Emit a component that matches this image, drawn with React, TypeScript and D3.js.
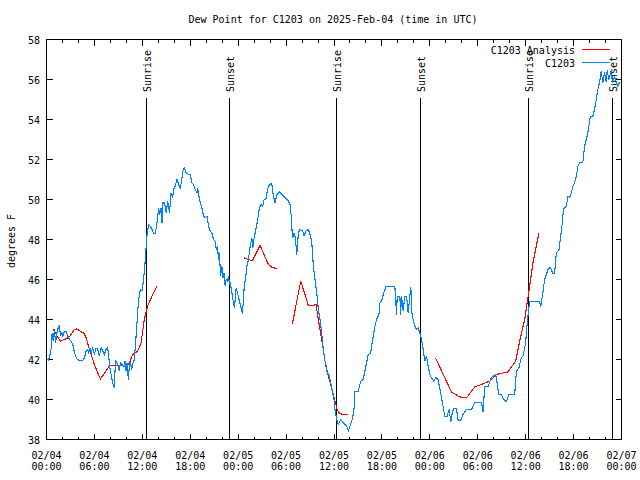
import React from "react";
import * as d3 from "d3";

const titleText = "Dew Point for C1203 on 2025-Feb-04 (time in UTC)";
const yLabel = "degrees F";
const yTicks = [38, 40, 42, 44, 46, 48, 50, 52, 54, 56, 58];
const xTickDates = ["02/04", "02/04", "02/04", "02/04", "02/05", "02/05", "02/05", "02/05", "02/06", "02/06", "02/06", "02/06", "02/07"];
const xTickTimes = ["00:00", "06:00", "12:00", "18:00", "00:00", "06:00", "12:00", "18:00", "00:00", "06:00", "12:00", "18:00", "00:00"];
const sunriseHours = [12.5, 36.375, 60.375];
const sunsetHours = [22.875, 46.875, 70.875];

// hours since 2025-02-04 00:00 UTC, dew point in °F
const obsSeries: [number, number][] = [
  [0, 42.0], [0.25, 41.97], [0.41, 42.17], [0.59, 42.58], [0.71, 43.33], [0.84, 42.92], [1.0, 43.5], [1.125, 42.83],
  [1.34, 43.42], [1.5, 43.63], [1.625, 43.67], [1.75, 43.17], [1.91, 43.33], [2.04, 43.17], [2.25, 43.42], [2.46, 43.42],
  [2.66, 43.17], [2.875, 43.0], [3.09, 42.92], [3.29, 42.75], [3.41, 42.5], [3.59, 42.25], [3.79, 42.03], [4.125, 41.95],
  [4.54, 41.95], [4.75, 42.08], [4.96, 42.42], [5.16, 42.5], [5.29, 42.33], [5.46, 42.58], [5.59, 42.33], [5.79, 42.58],
  [6.0, 42.25], [6.21, 42.58], [6.41, 42.53], [6.625, 42.17], [6.84, 42.58], [7.04, 42.42], [7.25, 42.25], [7.46, 42.5],
  [7.66, 42.58], [7.79, 42.17], [7.96, 41.5], [8.09, 41.25], [8.29, 40.83], [8.5, 40.58], [8.625, 41.92], [8.84, 41.83],
  [9.0, 41.67], [9.125, 41.42], [9.25, 41.83], [9.41, 41.75], [9.66, 41.67], [9.84, 41.92], [9.96, 41.42], [10.09, 41.83],
  [10.25, 41.0], [10.375, 41.67], [10.5, 41.92], [10.66, 41.5], [10.84, 41.83], [11.0, 42.0], [11.125, 42.67], [11.25, 43.33],
  [11.41, 44.33], [11.54, 45.0], [11.75, 45.5], [11.96, 45.42], [12.16, 46.0], [12.375, 47.0], [12.5, 47.75], [12.59, 48.25],
  [12.79, 48.75], [13.0, 48.67], [13.21, 48.5], [13.41, 48.3], [13.625, 48.3], [13.84, 48.83], [14.04, 49.58], [14.16, 49.25],
  [14.34, 49.58], [14.46, 48.83], [14.59, 49.83], [14.79, 49.83], [15.0, 49.33], [15.16, 49.92], [15.41, 49.33], [15.59, 50.33],
  [15.79, 50.08], [15.91, 50.5], [16.125, 50.67], [16.34, 51.0], [16.54, 50.75], [16.75, 50.58], [16.875, 50.83], [17.09, 51.42],
  [17.25, 51.58], [17.5, 51.33], [17.79, 51.25], [18.0, 51.25], [18.21, 50.83], [18.41, 50.75], [18.625, 50.5], [18.84, 50.33],
  [18.91, 50.58], [19.09, 50.17], [19.25, 49.83], [19.46, 49.58], [19.66, 49.17], [19.875, 49.08], [20.09, 49.17], [20.29, 48.67],
  [20.5, 48.42], [20.71, 48.33], [20.91, 48.0], [21.125, 47.92], [21.25, 47.5], [21.41, 47.67], [21.54, 47.0], [21.66, 47.33],
  [21.79, 46.17], [21.96, 46.67], [22.09, 46.08], [22.25, 46.33], [22.375, 45.67], [22.5, 46.0], [22.66, 45.92], [22.79, 46.17],
  [22.91, 45.75], [23.0, 45.87], [23.21, 45.33], [23.41, 44.83], [23.54, 44.58], [23.75, 45.58], [23.91, 45.33], [24.16, 44.92],
  [24.375, 44.58], [24.54, 44.3], [24.75, 45.58], [24.96, 46.17], [25.09, 46.67], [25.29, 47.0], [25.5, 47.67], [25.71, 48.08],
  [25.84, 47.58], [26.0, 48.08], [26.25, 48.58], [26.41, 48.92], [26.66, 49.58], [26.875, 49.75], [27.09, 49.67], [27.25, 50.0],
  [27.5, 50.03], [27.66, 50.5], [27.91, 50.75], [28.21, 50.8], [28.41, 50.17], [28.625, 49.83], [28.84, 50.25], [29.16, 50.37],
  [29.66, 50.17], [30.29, 49.92], [30.5, 49.75], [30.625, 49.25], [30.75, 48.42], [30.84, 48.08], [31.0, 48.33], [31.16, 48.08],
  [31.34, 47.25], [31.54, 48.33], [31.75, 48.5], [32.09, 48.42], [32.25, 48.17], [32.5, 48.42], [32.79, 48.5], [33.0, 48.25],
  [33.21, 47.92], [33.41, 46.67], [33.625, 46.0], [33.84, 45.33], [34.04, 44.5], [34.25, 44.0], [34.46, 43.33], [34.66, 42.5],
  [34.875, 41.92], [35.09, 41.42], [35.41, 41.17], [35.59, 40.83], [35.84, 40.33], [36.0, 40.0], [36.125, 39.5], [36.34, 39.0],
  [36.54, 38.75], [36.84, 39.0], [37.16, 38.83], [37.59, 38.67], [37.79, 38.42], [38.0, 38.67], [38.34, 39.08], [38.5, 39.5],
  [38.625, 40.42], [39.04, 40.42], [39.34, 40.92], [39.66, 41.0], [40.0, 41.67], [40.29, 42.25], [40.59, 42.33], [40.84, 43.0],
  [41.125, 43.67], [41.34, 44.0], [41.625, 44.25], [41.75, 44.83], [41.96, 44.92], [42.16, 45.25], [42.5, 45.63], [43.625, 45.63],
  [43.84, 44.25], [43.91, 45.17], [44.25, 45.17], [44.34, 44.25], [44.46, 45.17], [44.66, 44.42], [44.875, 45.17], [45.09, 45.17],
  [45.29, 44.33], [45.5, 45.17], [45.625, 45.63], [45.75, 44.33], [45.91, 44.0], [46.125, 43.67], [46.34, 43.5], [46.54, 43.58],
  [46.75, 43.33], [46.96, 43.0], [47.16, 42.5], [47.375, 41.92], [47.59, 42.17], [47.79, 41.67], [48.0, 41.25], [48.21, 41.08],
  [48.5, 40.9], [48.75, 41.1], [49.04, 41.0], [49.34, 40.35], [49.66, 39.65], [49.875, 39.15], [50.16, 39.15], [50.41, 39.5],
  [50.625, 38.9], [50.84, 39.4], [51.04, 39.55], [51.34, 39.55], [51.54, 38.95], [51.84, 38.95], [52.16, 39.25], [52.59, 39.5],
  [53.21, 39.5], [53.625, 39.85], [54.46, 39.85], [54.66, 39.4], [54.875, 40.65], [55.29, 40.65], [55.71, 41.1], [56.25, 41.25],
  [56.41, 40.85], [56.625, 40.25], [56.96, 40.25], [57.25, 40.0], [57.59, 39.9], [57.91, 40.25], [58.625, 40.25], [58.84, 41.4],
  [59.16, 41.6], [59.46, 42.1], [59.66, 42.15], [60.0, 42.85], [60.16, 43.65], [60.375, 44.5], [60.5, 44.9], [61.75, 44.9],
  [61.875, 44.65], [62.08, 45.15], [62.375, 46.0], [62.79, 46.5], [63.08, 46.6], [63.41, 46.3], [63.625, 46.3], [63.84, 47.35],
  [64.16, 47.45], [64.59, 48.85], [64.75, 49.55], [65.09, 49.65], [65.29, 50.15], [65.5, 50.1], [65.71, 50.3], [65.91, 50.65],
  [66.125, 50.85], [66.34, 51.15], [66.54, 51.65], [66.75, 51.85], [67.16, 51.85], [67.375, 52.65], [67.59, 53.0], [67.79, 53.35],
  [68.09, 54.15], [68.41, 54.15], [68.625, 54.5], [68.84, 55.0], [69.04, 55.5], [69.25, 55.85], [69.46, 56.4], [69.66, 55.85],
  [69.875, 56.35], [70.09, 55.9], [70.21, 56.45], [70.41, 56.0], [70.71, 56.45], [70.91, 55.9], [71.125, 56.1], [71.34, 55.9],
  [71.54, 55.65], [71.75, 55.85],
];

const anaSeg1: [number, number][] = [
  [0.79, 43.53], [1.21, 43.25], [1.75, 42.92], [2.25, 43.0], [2.875, 43.13], [3.5, 43.5], [3.79, 43.53], [4.34, 43.38],
  [4.66, 43.33], [4.96, 43.08], [5.25, 42.67], [5.59, 42.25], [6.0, 41.75], [6.41, 41.33], [6.75, 41.03], [7.16, 41.25],
  [7.59, 41.5], [7.875, 41.72], [9.54, 41.72], [9.96, 41.58], [10.375, 41.83], [10.79, 42.25], [11.41, 42.42], [11.84, 42.83],
  [12.25, 44.0], [12.66, 44.67], [13.25, 45.2], [13.84, 45.67],
];
const anaSeg2: [number, number][] = [
  [24.75, 47.08], [25.5, 46.97], [25.79, 46.95], [26.75, 47.7], [27.16, 47.33], [27.59, 46.92], [27.79, 46.75], [28.21, 46.62],
  [28.84, 46.53],
];
const anaSeg3: [number, number][] = [
  [30.79, 43.8], [31.84, 45.92], [32.79, 44.7], [33.75, 44.73], [34.04, 44.0], [34.46, 43.0], [34.875, 41.92], [35.29, 41.17],
  [35.71, 40.58], [36.125, 39.92], [36.41, 39.47], [36.75, 39.28], [37.71, 39.25],
];
const anaSeg4: [number, number][] = [
  [48.71, 42.08], [50.71, 40.37], [51.75, 40.13], [52.59, 40.08], [53.625, 40.63], [54.66, 40.78], [55.5, 40.92], [56.34, 41.25],
  [57.79, 41.38], [58.75, 41.92], [59.25, 42.92], [59.875, 44.0], [60.5, 45.67], [60.91, 46.83], [61.66, 48.33],
];
const anaSegments = [anaSeg1, anaSeg2, anaSeg3, anaSeg4];

const X0 = 46.5, X1 = 621.5, YB = 439.5, YT = 39.5;
const FONT = "'DejaVu Sans Mono', 'Liberation Mono', monospace";
const RED = "#ff0000";
const BLUE = "#0080ff";

export default function App() {
  const x = d3.scaleLinear().domain([0, 72]).range([X0, X1]);
  const y = d3.scaleLinear().domain([38, 58]).range([YB, YT]);
  const line = d3.line<[number, number]>().x((d) => x(d[0])).y((d) => y(d[1]));
  const xTickHours = d3.range(0, 73, 2);
  const labelHours = d3.range(0, 73, 6);
  const events = [
    ...sunriseHours.map((h) => ({ h, label: "Sunrise" })),
    ...sunsetHours.map((h) => ({ h, label: "Sunset" })),
  ];

  return (
    <svg width={640} height={480} style={{ position: "absolute", left: 0, top: 0, background: "#fff" }} fontFamily={FONT} fontSize={10}>
      <rect x={0} y={0} width={640} height={480} fill="#fff" />
      <text x={333} y={23} textAnchor="middle">{titleText}</text>
      <text transform="translate(15,241) rotate(-90)" textAnchor="middle">{yLabel}</text>

      <g shapeRendering="crispEdges" stroke="#000" strokeWidth={1}>
        {yTicks.map((t) => (
          <g key={"yt" + t}>
            <line x1={X0} x2={X0 + 6} y1={Math.round(y(t) - 0.5) + 0.5} y2={Math.round(y(t) - 0.5) + 0.5} />
            <line x1={X1} x2={X1 - 6} y1={Math.round(y(t) - 0.5) + 0.5} y2={Math.round(y(t) - 0.5) + 0.5} />
          </g>
        ))}
        {xTickHours.map((h) => {
          const len = h % 6 === 0 ? 6 : 3;
          const px = Math.round(x(h) - 0.5) + 0.5;
          return (
            <g key={"xt" + h}>
              <line x1={px} x2={px} y1={YB} y2={YB - len} />
              <line x1={px} x2={px} y1={YT} y2={YT + len} />
            </g>
          );
        })}
        {events.map((e, i) => {
          const px = Math.round(x(e.h) - 0.5) + 0.5;
          return <line key={"ev" + i} x1={px} x2={px} y1={98} y2={YB} />;
        })}
      </g>

      {events.map((e, i) => {
        const px = Math.round(x(e.h) - 0.5) + 0.5;
        return (
          <text key={"evl" + i} transform={`translate(${px + 4.5},92) rotate(-90)`} textAnchor="start">{e.label}</text>
        );
      })}

      {yTicks.map((t) => (
        <text key={"yl" + t} x={40} y={y(t) + 4} textAnchor="end">{t}</text>
      ))}
      {labelHours.map((h, i) => (
        <g key={"xl" + h}>
          <text x={x(h)} y={459} textAnchor="middle">{xTickDates[i]}</text>
          <text x={x(h)} y={470} textAnchor="middle">{xTickTimes[i]}</text>
        </g>
      ))}

      {anaSegments.map((seg, i) => (
        <path key={"ana" + i} d={line(seg) || ""} fill="none" stroke={RED} strokeWidth={1.1} shapeRendering="crispEdges" />
      ))}
      <path d={line(obsSeries) || ""} fill="none" stroke={BLUE} strokeWidth={1.1} shapeRendering="crispEdges" />

      <text x={575} y={54} textAnchor="end">C1203 Analysis</text>
      <line x1={582} x2={610} y1={49.5} y2={49.5} stroke={RED} strokeWidth={1} shapeRendering="crispEdges" />
      <text x={575} y={67} textAnchor="end">C1203</text>
      <line x1={582} x2={610} y1={62.5} y2={62.5} stroke={BLUE} strokeWidth={1} shapeRendering="crispEdges" />

      <rect x={X0} y={YT} width={X1 - X0} height={YB - YT} fill="none" stroke="#000" strokeWidth={1} shapeRendering="crispEdges" />
    </svg>
  );
}
